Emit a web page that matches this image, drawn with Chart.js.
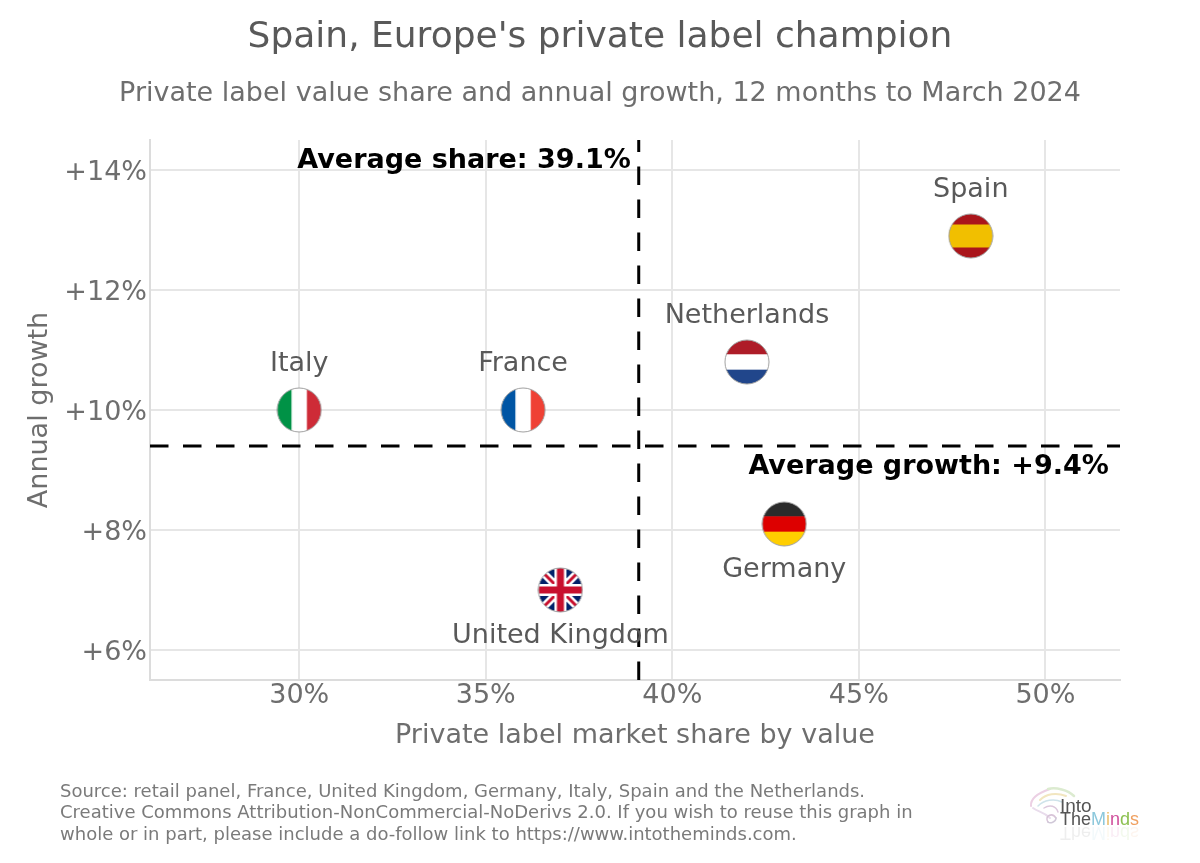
<!DOCTYPE html>
<html>
<head>
<meta charset="utf-8">
<style>
  html, body { margin: 0; padding: 0; background: #fff; }
  #wrap { width: 1200px; height: 863px; position: relative; }
  canvas { display: block; }
</style>
<script src="https://cdn.jsdelivr.net/npm/chart.js@4/dist/chart.umd.min.js"></script>
</head>
<body>
<div id="wrap"><canvas id="chart" width="1200" height="863"></canvas></div>
<script>
const countries = ["Spain", "Netherlands", "Italy", "France", "Germany", "United Kingdom"];
const shareValues = [48, 42, 30, 36, 43, 37];
const growthValues = [12.9, 10.8, 10, 10, 8.1, 7];
const labelSides = ["above", "above", "above", "above", "below", "below"];
const xTicks = [30, 35, 40, 45, 50];
const yTicks = [6, 8, 10, 12, 14];
const xRange = [26, 52];
const yRange = [5.5, 14.5];
const avgShare = 39.1;
const avgGrowth = 9.4;
const sourceLines = [
  "Source: retail panel, France, United Kingdom, Germany, Italy, Spain and the Netherlands.",
  "Creative Commons Attribution-NonCommercial-NoDerivs 2.0. If you wish to reuse this graph in",
  "whole or in part, please include a do-follow link to https://www.intotheminds.com."
];

const FONT = "'DejaVu Sans'";

function hStripes(c, colors, weights) {
  let y = 0;
  const total = weights.reduce((a, b) => a + b, 0);
  colors.forEach((col, i) => {
    const h = 46 * weights[i] / total;
    c.fillStyle = col;
    c.fillRect(0, y, 46, h + 0.5);
    y += h;
  });
}
function vStripes(c, colors) {
  colors.forEach((col, i) => {
    c.fillStyle = col;
    c.fillRect(i * 46 / 3, 0, 46 / 3 + 0.5, 46);
  });
}
function unionJack(c) {
  c.fillStyle = "#012169";
  c.fillRect(0, 0, 46, 46);
  c.lineCap = "butt";
  c.strokeStyle = "#fff";
  c.lineWidth = 8;
  c.beginPath(); c.moveTo(4, 4); c.lineTo(42, 42); c.moveTo(42, 4); c.lineTo(4, 42); c.stroke();
  c.strokeStyle = "#c8102e";
  c.lineWidth = 3;
  c.beginPath(); c.moveTo(4, 4); c.lineTo(42, 42); c.moveTo(42, 4); c.lineTo(4, 42); c.stroke();
  c.fillStyle = "#fff";
  c.fillRect(17, 0, 12, 46);
  c.fillRect(0, 17, 46, 12);
  c.fillStyle = "#c8102e";
  c.fillRect(19.5, 0, 7, 46);
  c.fillRect(0, 19.5, 46, 7);
}
const flagPainters = {
  "Spain": c => hStripes(c, ["#aa151b", "#f1bf00", "#aa151b"], [1, 2, 1]),
  "Netherlands": c => hStripes(c, ["#ae1c28", "#ffffff", "#21468b"], [1, 1, 1]),
  "Italy": c => vStripes(c, ["#009246", "#ffffff", "#ce2b37"]),
  "France": c => vStripes(c, ["#0055a4", "#ffffff", "#ef4135"]),
  "Germany": c => hStripes(c, ["#2b2b2b", "#dd0000", "#ffce00"], [1, 1, 1]),
  "United Kingdom": unionJack
};
function makeFlag(name) {
  const cv = document.createElement("canvas");
  cv.width = 46;
  cv.height = 46;
  const c = cv.getContext("2d");
  c.save();
  c.beginPath();
  c.arc(23, 23, 22, 0, Math.PI * 2);
  c.clip();
  flagPainters[name](c);
  c.restore();
  c.beginPath();
  c.arc(23, 23, 22, 0, Math.PI * 2);
  c.strokeStyle = "#a0a0a0";
  c.lineWidth = 1;
  c.stroke();
  return cv;
}

function drawLogo(c) {
  // pastel brain + wordmark, bottom right
  c.save();
  c.lineCap = "round";
  const curves = [
    ["#ecd0e4", 2, [1031, 806, 1030, 796, 1044, 791, 1050, 789]],
    ["#dcebd0", 2.5, [1048, 789, 1056, 787, 1068, 790, 1074, 796]],
    ["#e9dcec", 2, [1033, 808, 1038, 812, 1044, 812, 1050, 818]],
    ["#f2e6c0", 2, [1040, 800, 1046, 794, 1056, 792, 1066, 796]],
    ["#cfe3ea", 1.5, [1038, 806, 1044, 800, 1054, 798, 1062, 802]],
    ["#dcc8dc", 1.5, [1044, 808, 1050, 804, 1056, 806, 1058, 812]],
    ["#d8c4d8", 1.5, [1048, 822, 1044, 816, 1052, 812, 1056, 818]],
    ["#d0c8d8", 1.5, [1056, 818, 1056, 822, 1050, 824, 1048, 822]]
  ];
  curves.forEach(p => {
    const q = p[2];
    c.strokeStyle = p[0];
    c.lineWidth = p[1];
    c.beginPath();
    c.moveTo(q[0], q[1]);
    c.bezierCurveTo(q[2], q[3], q[4], q[5], q[6], q[7]);
    c.stroke();
  });
  c.textAlign = "left";
  c.textBaseline = "alphabetic";
  c.font = "19px 'Liberation Sans'";
  c.fillStyle = "#555";
  c.fillText("Into", 1060, 812);
  c.font = "18px 'Liberation Sans'";
  const parts = [["The", "#555"], ["M", "#8cc8dc"], ["i", "#ecc070"], ["n", "#d0509c"], ["d", "#8cc050"], ["s", "#f0a060"]];
  let x = 1060;
  parts.forEach(part => {
    c.fillStyle = part[1];
    c.fillText(part[0], x, 825);
    x += c.measureText(part[0]).width;
  });
  // faint mirrored wordmark under the logo
  c.globalAlpha = 0.1;
  c.translate(0, 2 * 826);
  c.scale(1, -1);
  x = 1060;
  parts.forEach(part => {
    c.fillStyle = part[1];
    c.fillText(part[0], x, 825);
    x += c.measureText(part[0]).width;
  });
  c.restore();
}

const overlayPlugin = {
  id: "overlay",
  afterDraw(chart) {
    const c = chart.ctx;
    const xs = chart.scales.x;
    const ys = chart.scales.y;
    c.save();
    c.textAlign = "center";
    c.textBaseline = "middle";
    c.font = "27px " + FONT;
    c.fillStyle = "#595959";
    countries.forEach((name, i) => {
      const off = labelSides[i] === "above" ? -46 : 46;
      c.fillText(name, xs.getPixelForValue(shareValues[i]), ys.getPixelForValue(growthValues[i]) + off);
    });
    c.font = "bold 27px " + FONT;
    c.fillStyle = "#000";
    c.textAlign = "right";
    c.fillText("Average share: " + avgShare + "%", xs.getPixelForValue(avgShare) - 8, ys.getPixelForValue(14.15));
    c.fillText("Average growth: +" + avgGrowth + "%", xs.getPixelForValue(51.7), ys.getPixelForValue(avgGrowth) + 21);
    c.font = "18px " + FONT;
    c.fillStyle = "#7a7a7a";
    c.textAlign = "left";
    sourceLines.forEach((line, i) => c.fillText(line, 60, 792 + i * 21.5));
    c.restore();
    drawLogo(c);
  }
};

new Chart(document.getElementById("chart"), {
  type: "scatter",
  plugins: [overlayPlugin],
  data: {
    datasets: [
      {
        data: shareValues.map((v, i) => ({ x: v, y: growthValues[i] })),
        pointStyle: countries.map(makeFlag),
        showLine: false
      },
      {
        data: [{ x: avgShare, y: yRange[0] }, { x: avgShare, y: yRange[1] }],
        showLine: true, borderColor: "#000", borderWidth: 3, borderDash: [18.5, 14.5], pointRadius: 0, order: -1
      },
      {
        data: [{ x: xRange[0], y: avgGrowth }, { x: xRange[1], y: avgGrowth }],
        showLine: true, borderColor: "#000", borderWidth: 3, borderDash: [18.5, 14.5], pointRadius: 0, order: -1
      }
    ]
  },
  options: {
    responsive: false,
    devicePixelRatio: 1,
    animation: false,
    layout: { padding: { bottom: 111 } },
    plugins: {
      legend: { display: false },
      tooltip: { enabled: false },
      title: {
        display: true,
        text: "Spain, Europe's private label champion",
        color: "#595959",
        font: { family: FONT, size: 36, weight: "normal" },
        padding: { top: 16, bottom: 0 }
      },
      subtitle: {
        display: true,
        text: "Private label value share and annual growth, 12 months to March 2024",
        color: "#6e6e6e",
        font: { family: FONT, size: 27, weight: "normal" },
        padding: { top: 19, bottom: 29.4 }
      }
    },
    scales: {
      x: {
        type: "linear",
        min: xRange[0],
        max: xRange[1],
        afterBuildTicks: s => { s.ticks = xTicks.map(v => ({ value: v })); },
        afterFit: s => { s.height = 72; },
        grid: { color: "#e6e6e6", lineWidth: 2, drawTicks: false },
        border: { color: "#dcdcdc", width: 2 },
        ticks: {
          color: "#6e6e6e",
          padding: 0,
          maxRotation: 0,
          font: { family: FONT, size: 27 },
          callback: v => v + "%"
        },
        title: {
          display: true,
          text: "Private label market share by value",
          color: "#6e6e6e",
          font: { family: FONT, size: 27 },
          padding: { top: 0, bottom: 0 }
        }
      },
      y: {
        type: "linear",
        min: yRange[0],
        max: yRange[1],
        afterBuildTicks: s => { s.ticks = yTicks.map(v => ({ value: v })); },
        afterFit: s => { s.width = 150; },
        grid: { color: "#e6e6e6", lineWidth: 2, drawTicks: false },
        border: { color: "#dcdcdc", width: 2 },
        ticks: {
          color: "#6e6e6e",
          padding: 3,
          labelOffset: 2.5,
          font: { family: FONT, size: 27 },
          callback: v => "+" + v + "%"
        },
        title: {
          display: true,
          text: "Annual growth",
          color: "#6e6e6e",
          font: { family: FONT, size: 27 },
          padding: { top: 24, bottom: 0 }
        }
      },
      // empty axis, only keeps the right margin so the titles stay centred on the page
      rightMargin: {
        type: "linear",
        position: "right",
        afterFit: s => { s.width = 80; },
        grid: { display: false },
        border: { display: false },
        ticks: { display: false }
      }
    }
  }
});
</script>
</body>
</html>
